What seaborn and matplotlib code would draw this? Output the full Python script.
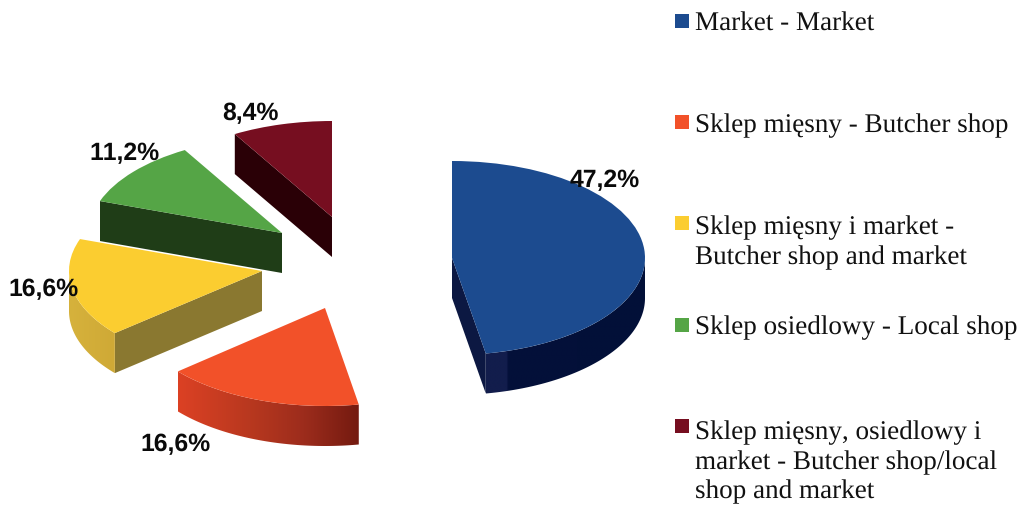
import numpy as np
import matplotlib
matplotlib.use("Agg")
import matplotlib.pyplot as plt
import seaborn as sns
from matplotlib.colors import LinearSegmentedColormap
from matplotlib.patches import Polygon, Rectangle
from matplotlib.transforms import Affine2D

# Shop types and their share of answers, percent
categories = [
    "Market - Market",
    "Sklep mięsny - Butcher shop",
    "Sklep mięsny i market -\nButcher shop and market",
    "Sklep osiedlowy - Local shop",
    "Sklep mięsny, osiedlowy i\nmarket - Butcher shop/local\nshop and market",
]
shares = [47.2, 16.6, 16.6, 11.2, 8.4]

sns.set_theme(style="white")
plt.rcParams["text.kerning_factor"] = 6
plt.rcParams["text.hinting"] = "no_hinting"

top_colors = sns.color_palette(["#1c4b8f", "#f25129", "#fbcd30", "#55a546", "#760e20"])
cut_colors = ["#0c1842", "#7a1c10", "#8a7830", "#1f3d17", "#2a0006"]
rim_stops = [
    [(0, "#121d4c"), (0.13, "#121d4c"), (0.135, "#04103a"), (1, "#021038")],
    [(0, "#dc4124"), (0.4, "#b8381f"), (0.7, "#9c2c1c"), (1, "#741a10")],
    [(0, "#d6b23c"), (1, "#cfa936")],
    [(0, "#1f3d17"), (1, "#1f3d17")],
    [(0, "#2a0006"), (1, "#2a0006")],
]

# Exploded slice centres and the projected ellipse of the pie
centres = [(452, 259), (325, 309), (262, 272), (282, 234), (332, 218)]
semi_x = 193
semi_y = [97, 98, 96, 96, 96]
depth = 40

label_xy = [(605, 181), (176, 445), (44, 290), (125, 154), (250, 114)]
legend_text_y = [31, 132, 264, 334.5, 498.5]
legend_box_y = [15, 116, 217, 319, 420]

fig = plt.figure(figsize=(10.22, 5.06), dpi=100, facecolor="white")
ax = fig.add_axes([0, 0, 1, 1])

wedges, _ = ax.pie(shares, colors=top_colors, startangle=90, counterclock=False, radius=1,
                   wedgeprops={"linewidth": 0, "edgecolor": "none"})


def rim_point(c, b, deg):
    phi = np.radians(deg)
    return c[0] + semi_x * np.cos(phi), c[1] - b * np.sin(phi)


for i, wedge in enumerate(wedges):
    c, b = centres[i], semi_y[i]
    t1, t2 = wedge.theta1, wedge.theta2

    # Radial cut faces whose outward side looks down toward the viewer
    for edge, normal in ((t1, t1 - 90), (t2, t2 + 90)):
        if np.sin(np.radians(normal)) < -0.05:
            px, py = rim_point(c, b, edge)
            ax.add_patch(Polygon(
                [c, (px, py), (px, py + depth), (c[0], c[1] + depth)],
                closed=True, facecolor=cut_colors[i], edgecolor="none", zorder=2 + i,
            ))

    # Outer wall: only the front half of the ellipse is visible, shaded left to right
    lo, hi = max(t1, -180), min(t2, 0)
    if t1 < -180:
        lo = -180
    if hi > lo:
        degs = np.linspace(lo, hi, 120)
        pts = np.array([rim_point(c, b, d) for d in degs])
        outline = np.vstack([pts, pts[::-1] + (0, depth)])
        cmap = LinearSegmentedColormap.from_list(f"rim{i}", rim_stops[i])
        clip = Polygon(outline, closed=True, transform=ax.transData)
        im = ax.imshow(np.linspace(0, 1, 512)[None, :], cmap=cmap, aspect="auto",
                       extent=[pts[:, 0].min(), pts[:, 0].max(),
                               pts[:, 1].max() + depth, pts[:, 1].min()],
                       zorder=2 + i)
        im.set_clip_path(clip)

    wedge.set_transform(Affine2D().scale(semi_x, -b).translate(*c) + ax.transData)
    wedge.set_zorder(3 + i)

ax.set_aspect("auto")
ax.set_xlim(0, 1022)
ax.set_ylim(506, 0)
ax.set_axis_off()

# Percentage labels, decimal comma
for value, (x, y) in zip(shares, label_xy):
    ax.text(x, y, f"{value:.1f}%".replace(".", ","), ha="center", va="center",
            family="Liberation Sans", fontweight="bold", fontsize=17.8,
            color="#0a0a0a", zorder=20)

# Legend column
for name, colour, ty, by in zip(categories, top_colors, legend_text_y, legend_box_y):
    ax.add_patch(Rectangle((675, by), 14, 14, facecolor=colour, edgecolor="none", zorder=20))
    ax.text(695, ty, name, ha="left", va="baseline", family="Liberation Serif",
            fontsize=19.5, color="#111111", linespacing=1.27, zorder=20)

fig.savefig("out.png", dpi=100, facecolor="white")
